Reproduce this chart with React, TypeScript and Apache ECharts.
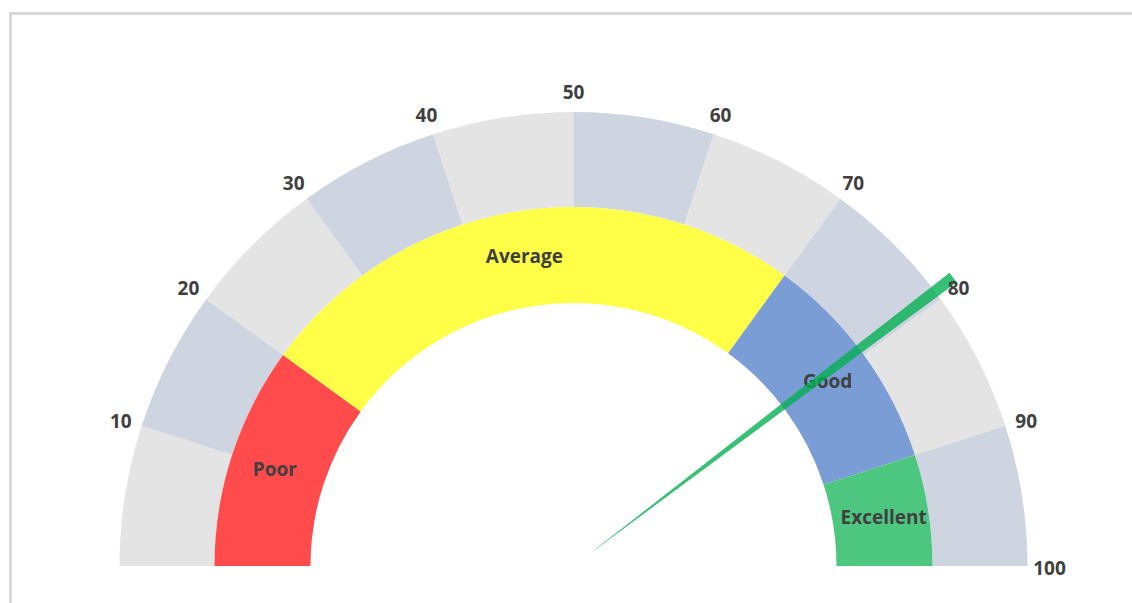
import React, { useEffect, useRef } from "react";
import * as echarts from "echarts";

const bandNames = ["Poor", "Average", "Good", "Excellent"];
const bandValues = [20, 50, 20, 10];
const bandColors = ["#ff4b4b", "#ffff47", "#7b9dd6", "#4dc77f"];

const scaleSegments = [10, 10, 10, 10, 10, 10, 10, 10, 10, 10];
const scaleColors = ["#e4e4e4", "#cfd5e0"];

const tickLabels = [10, 20, 30, 40, 50, 60, 70, 80, 90, 100];
const needleValue = 79.3;

export default function App() {
  const ref = useRef<HTMLDivElement>(null);
  useEffect(() => {
    if (!ref.current) return;
    const chart = echarts.init(ref.current, null, { renderer: "svg" });
    const cx = 573.5;
    const cy = 566;
    const labelR = 476;
    const font = "'Open Sans', 'Noto Sans', sans-serif";
    const total = bandValues.reduce((a, b) => a + b, 0);

    const outerData = scaleSegments.map((v, i) => ({
      value: v,
      name: "s" + i,
      itemStyle: { color: scaleColors[i % 2] },
    }));
    outerData.push({ value: total, name: "hidden", itemStyle: { color: "rgba(0,0,0,0)" } });

    const innerData: any[] = bandValues.map((v, i) => ({
      value: v,
      name: bandNames[i],
      itemStyle: { color: bandColors[i] },
    }));
    innerData.push({
      value: total,
      name: "hidden",
      itemStyle: { color: "rgba(0,0,0,0)" },
      label: { show: false },
    });

    chart.setOption({
      animation: false,
      polar: { center: [cx, cy], radius: labelR },
      angleAxis: {
        type: "value",
        min: 0,
        max: 200,
        startAngle: 180,
        clockwise: true,
        show: false,
      },
      radiusAxis: { type: "value", min: 0, max: labelR, show: false },
      series: [
        {
          type: "pie",
          center: [cx, cy],
          radius: [359, 454],
          startAngle: 180,
          silent: true,
          label: { show: false },
          labelLine: { show: false },
          data: outerData,
        },
        {
          type: "pie",
          center: [cx, cy],
          radius: [263, 359],
          startAngle: 180,
          silent: true,
          label: {
            show: true,
            position: "inside",
            formatter: "{b}",
            color: "#404040",
            fontSize: 19,
            fontWeight: "bold",
            fontFamily: font,
          },
          labelLine: { show: false },
          data: innerData,
        },
        {
          type: "gauge",
          center: [cx, cy],
          radius: 472,
          startAngle: 180,
          endAngle: 0,
          min: 0,
          max: 100,
          axisLine: { show: false },
          splitLine: { show: false },
          axisTick: { show: false },
          axisLabel: { show: false },
          title: { show: false },
          detail: { show: false },
          anchor: { show: false },
          pointer: {
            icon: "path://M5.9,100 L6.1,100 L12,0 L0,0 Z",
            keepAspect: false,
            width: 12,
            length: 452,
            offsetCenter: [0, -25],
            itemStyle: { color: "#00b050", opacity: 0.78 },
          },
          data: [{ value: needleValue }],
          z: 3,
        },
        {
          type: "scatter",
          coordinateSystem: "polar",
          symbolSize: 1,
          itemStyle: { color: "rgba(255,255,255,0)" },
          silent: true,
          z: 5,
          label: {
            show: true,
            position: "inside",
            offset: [0, 2],
            formatter: (p: any) => String(p.value[1]),
            color: "#404040",
            opacity: 1,
            fontSize: 19,
            fontWeight: "bold",
            fontFamily: font,
          },
          data: tickLabels.map((t) => [labelR, t]),
        },
      ],
    });
    return () => chart.dispose();
  }, []);

  return (
    <div style={{ position: "fixed", left: 0, top: 0, width: 1132, height: 603, background: "#fff" }}>
      <div
        style={{
          position: "absolute",
          left: 9,
          top: 12,
          width: 1140,
          height: 620,
          borderTop: "3px solid #dadada",
          borderLeft: "3px solid #dadada",
        }}
      />
      <div ref={ref} style={{ position: "absolute", left: 0, top: 0, width: 1132, height: 603 }} />
    </div>
  );
}
